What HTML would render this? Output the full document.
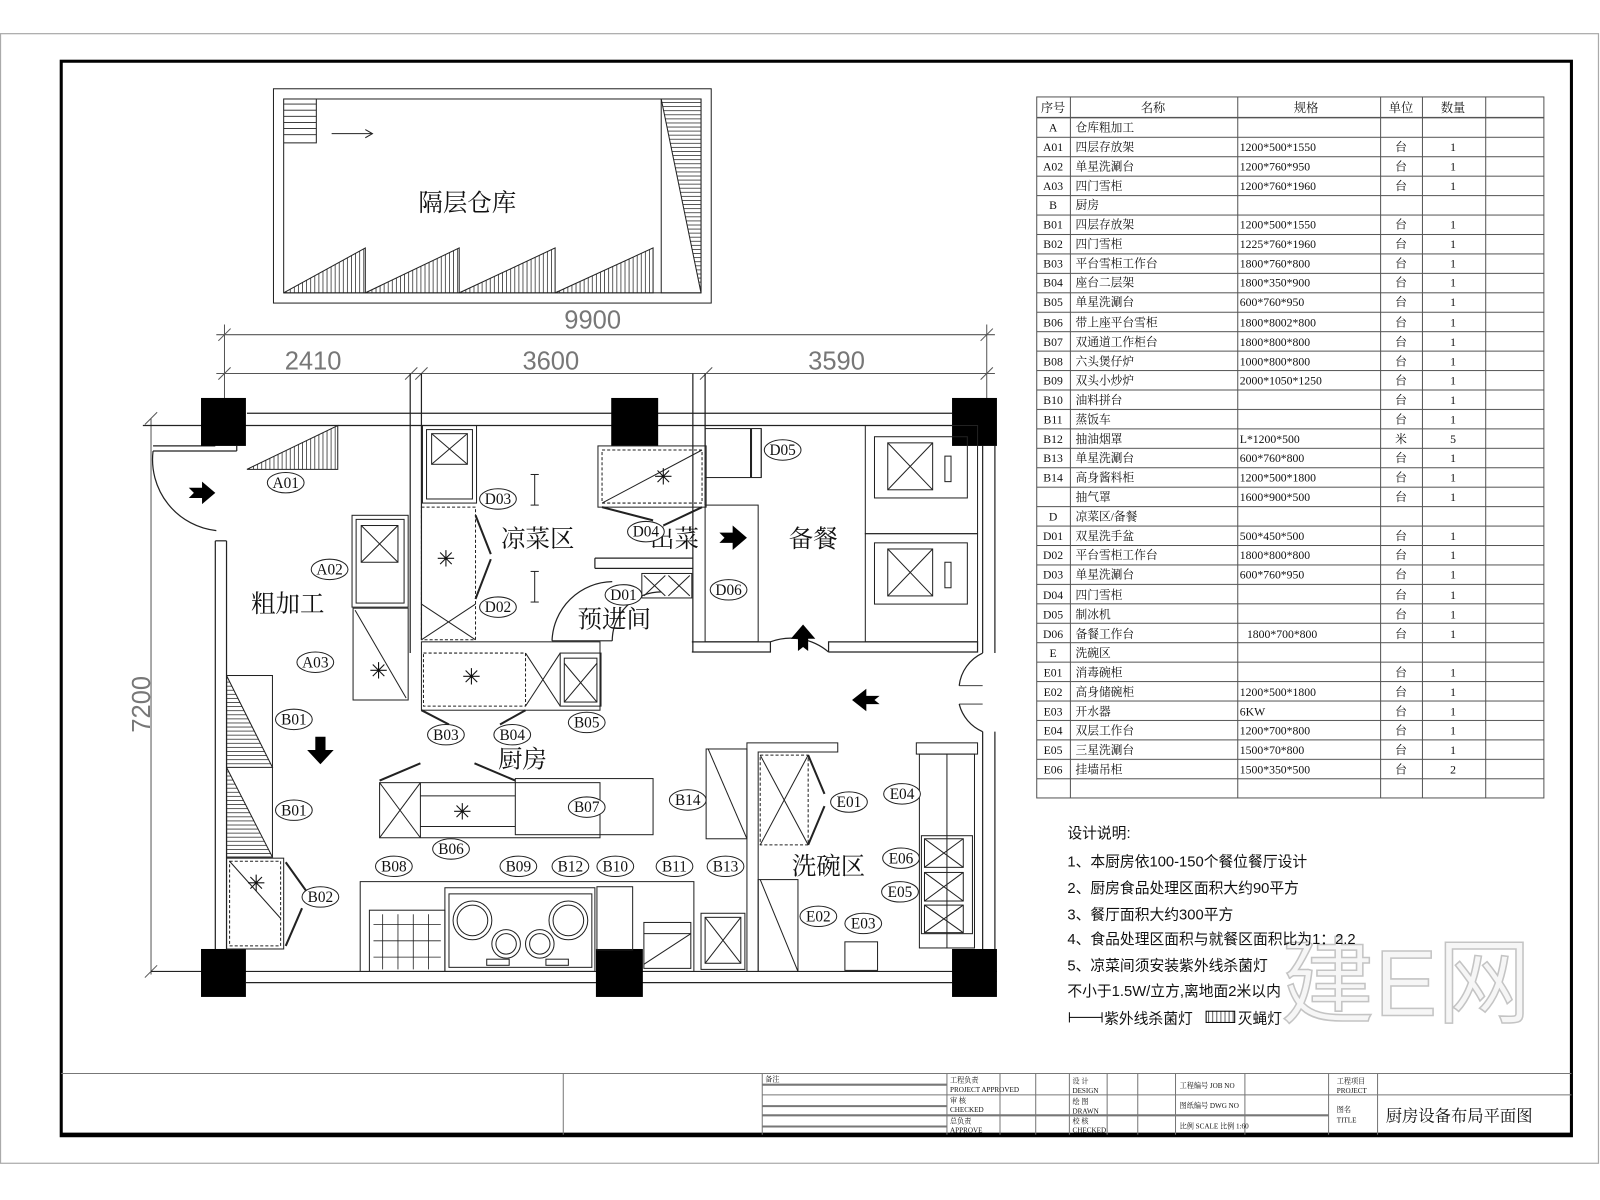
<!DOCTYPE html>
<html><head><meta charset="utf-8"><style>
html,body{margin:0;padding:0;background:#fff;}
svg{display:block;}
text{font-family:"Liberation Serif","Noto Serif CJK SC",serif;fill:#111;}
.s{font-family:"Liberation Sans","Noto Sans CJK SC",sans-serif;}
</style></head><body>
<svg width="1600" height="1200" viewBox="0 0 1568 1176" xmlns="http://www.w3.org/2000/svg">
<defs>
<pattern id="rows" x="0" y="115" width="10" height="19.05" patternUnits="userSpaceOnUse"><line x1="0" y1="0.5" x2="10" y2="0.5" stroke="#555" stroke-width="1"/></pattern>
<pattern id="vh" x="0" y="0" width="4" height="4" patternUnits="userSpaceOnUse"><line x1="0.5" y1="0" x2="0.5" y2="4" stroke="#333" stroke-width="0.8"/></pattern>
<pattern id="hh" x="0" y="0" width="4" height="4" patternUnits="userSpaceOnUse"><line x1="0" y1="0.5" x2="4" y2="0.5" stroke="#333" stroke-width="0.8"/></pattern>
</defs>
<rect x="0" y="0" width="1568" height="1176" fill="#fff"/>
<rect x="0.5" y="33" width="1566" height="1107" fill="none" stroke="#aaa" stroke-width="1.2"/>
<rect x="60" y="60" width="1480" height="1053" fill="none" stroke="#000" stroke-width="3"/>
<line x1="60" y1="1112" x2="1540" y2="1112" stroke="#000" stroke-width="4"/>

<text x="1255" y="995" font-size="92" class="s" stroke="#c4c4c4" stroke-width="1.5" style="fill:#f6f6f6">建E网</text>

<g stroke="#777" stroke-width="1" fill="none">
<line x1="60" y1="1052" x2="1540" y2="1052"/>
<line x1="552" y1="1052" x2="552" y2="1112"/>
<line x1="747" y1="1052" x2="747" y2="1112"/>
<line x1="928" y1="1052" x2="928" y2="1112"/>
<line x1="980" y1="1052" x2="980" y2="1112"/>
<line x1="1015" y1="1052" x2="1015" y2="1112"/>
<line x1="1048" y1="1052" x2="1048" y2="1112"/>
<line x1="1085" y1="1052" x2="1085" y2="1112"/>
<line x1="1115" y1="1052" x2="1115" y2="1112"/>
<line x1="1152" y1="1052" x2="1152" y2="1112"/>
<line x1="1220" y1="1052" x2="1220" y2="1112"/>
<line x1="1302" y1="1052" x2="1302" y2="1112"/>
<line x1="1350" y1="1052" x2="1350" y2="1112"/>
<line x1="1302" y1="1073" x2="1540" y2="1073"/>
<line x1="747" y1="1063" x2="928" y2="1063" stroke-width="2"/>
<line x1="747" y1="1073" x2="1302" y2="1073"/>
<line x1="747" y1="1084" x2="928" y2="1084" stroke-width="2"/>
<line x1="747" y1="1093" x2="1302" y2="1093" stroke-width="2"/>
<line x1="747" y1="1104" x2="928" y2="1104" stroke-width="2"/>
</g>
<g font-size="7">
<text x="750" y="1060">备注</text>
<text x="931" y="1061">工程负责</text><text x="931" y="1070">PROJECT APPROVED</text>
<text x="931" y="1081">审 核</text><text x="931" y="1090">CHECKED</text>
<text x="931" y="1101">总负责</text><text x="931" y="1110">APPROVE</text>
<text x="1051" y="1062">设 计</text><text x="1051" y="1071">DESIGN</text>
<text x="1051" y="1082">绘 图</text><text x="1051" y="1091">DRAWN</text>
<text x="1051" y="1101">校 核</text><text x="1051" y="1110">CHECKED</text>
<text x="1156" y="1066">工程编号 JOB NO</text>
<text x="1156" y="1086">图纸编号 DWG NO</text>
<text x="1156" y="1106">比例 SCALE  比例   1:60</text>
<text x="1310" y="1062">工程项目</text><text x="1310" y="1071">PROJECT</text>
<text x="1310" y="1090">图名</text><text x="1310" y="1100">TITLE</text>
</g>
<text x="1358" y="1099" font-size="16">厨房设备布局平面图</text>

<rect x="1016" y="115" width="497" height="667" fill="url(#rows)"/>
<g stroke="#555" stroke-width="1" fill="none">
<rect x="1016" y="95" width="497" height="687"/>
<line x1="1016" y1="115" x2="1513" y2="115"/>
<line x1="1049" y1="95" x2="1049" y2="782"/>
<line x1="1213" y1="95" x2="1213" y2="782"/>
<line x1="1353" y1="95" x2="1353" y2="782"/>
<line x1="1394" y1="95" x2="1394" y2="782"/>
<line x1="1456" y1="95" x2="1456" y2="782"/>
</g>
<g font-size="12">
<text x="1020" y="110">序号</text><text x="1118" y="110">名称</text><text x="1268" y="110">规格</text><text x="1361" y="110">单位</text><text x="1412" y="110">数量</text>
</g>
<g font-size="11.5">
<g text-anchor="middle">
<text x="1032" y="129">A</text><text x="1032" y="148">A01</text><text x="1032" y="167">A02</text><text x="1032" y="186">A03</text><text x="1032" y="205">B</text><text x="1032" y="224">B01</text><text x="1032" y="243">B02</text><text x="1032" y="262">B03</text><text x="1032" y="281">B04</text><text x="1032" y="300">B05</text><text x="1032" y="320">B06</text><text x="1032" y="339">B07</text><text x="1032" y="358">B08</text><text x="1032" y="377">B09</text><text x="1032" y="396">B10</text><text x="1032" y="415">B11</text><text x="1032" y="434">B12</text><text x="1032" y="453">B13</text><text x="1032" y="472">B14</text><text x="1032" y="510">D</text><text x="1032" y="529">D01</text><text x="1032" y="548">D02</text><text x="1032" y="567">D03</text><text x="1032" y="587">D04</text><text x="1032" y="606">D05</text><text x="1032" y="625">D06</text><text x="1032" y="644">E</text><text x="1032" y="663">E01</text><text x="1032" y="682">E02</text><text x="1032" y="701">E03</text><text x="1032" y="720">E04</text><text x="1032" y="739">E05</text><text x="1032" y="758">E06</text>
</g>
<g>
<text x="1054" y="129">仓库粗加工</text><text x="1054" y="148">四层存放架</text><text x="1054" y="167">单星洗涮台</text><text x="1054" y="186">四门雪柜</text><text x="1054" y="205">厨房</text><text x="1054" y="224">四层存放架</text><text x="1054" y="243">四门雪柜</text><text x="1054" y="262">平台雪柜工作台</text><text x="1054" y="281">座台二层架</text><text x="1054" y="300">单星洗涮台</text><text x="1054" y="320">带上座平台雪柜</text><text x="1054" y="339">双通道工作柜台</text><text x="1054" y="358">六头煲仔炉</text><text x="1054" y="377">双头小炒炉</text><text x="1054" y="396">油料拼台</text><text x="1054" y="415">蒸饭车</text><text x="1054" y="434">抽油烟罩</text><text x="1054" y="453">单星洗涮台</text><text x="1054" y="472">高身酱料柜</text><text x="1054" y="491">抽气罩</text><text x="1054" y="510">凉菜区/备餐</text><text x="1054" y="529">双星洗手盆</text><text x="1054" y="548">平台雪柜工作台</text><text x="1054" y="567">单星洗涮台</text><text x="1054" y="587">四门雪柜</text><text x="1054" y="606">制冰机</text><text x="1054" y="625">备餐工作台</text><text x="1054" y="644">洗碗区</text><text x="1054" y="663">消毒碗柜</text><text x="1054" y="682">高身储碗柜</text><text x="1054" y="701">开水器</text><text x="1054" y="720">双层工作台</text><text x="1054" y="739">三星洗涮台</text><text x="1054" y="758">挂墙吊柜</text>
</g>
<g>
<text x="1215" y="148">1200*500*1550</text><text x="1215" y="167">1200*760*950</text><text x="1215" y="186">1200*760*1960</text><text x="1215" y="224">1200*500*1550</text><text x="1215" y="243">1225*760*1960</text><text x="1215" y="262">1800*760*800</text><text x="1215" y="281">1800*350*900</text><text x="1215" y="300">600*760*950</text><text x="1215" y="320">1800*8002*800</text><text x="1215" y="339">1800*800*800</text><text x="1215" y="358">1000*800*800</text><text x="1215" y="377">2000*1050*1250</text><text x="1215" y="434">L*1200*500</text><text x="1215" y="453">600*760*800</text><text x="1215" y="472">1200*500*1800</text><text x="1215" y="491">1600*900*500</text><text x="1215" y="529">500*450*500</text><text x="1215" y="548">1800*800*800</text><text x="1215" y="567">600*760*950</text><text x="1222" y="625">1800*700*800</text><text x="1215" y="682">1200*500*1800</text><text x="1215" y="701">6KW</text><text x="1215" y="720">1200*700*800</text><text x="1215" y="739">1500*70*800</text><text x="1215" y="758">1500*350*500</text>
</g>
<g text-anchor="middle">
<text x="1373" y="148">台</text><text x="1373" y="167">台</text><text x="1373" y="186">台</text><text x="1373" y="224">台</text><text x="1373" y="243">台</text><text x="1373" y="262">台</text><text x="1373" y="281">台</text><text x="1373" y="300">台</text><text x="1373" y="320">台</text><text x="1373" y="339">台</text><text x="1373" y="358">台</text><text x="1373" y="377">台</text><text x="1373" y="396">台</text><text x="1373" y="415">台</text><text x="1373" y="434">米</text><text x="1373" y="453">台</text><text x="1373" y="472">台</text><text x="1373" y="491">台</text><text x="1373" y="529">台</text><text x="1373" y="548">台</text><text x="1373" y="567">台</text><text x="1373" y="587">台</text><text x="1373" y="606">台</text><text x="1373" y="625">台</text><text x="1373" y="663">台</text><text x="1373" y="682">台</text><text x="1373" y="701">台</text><text x="1373" y="720">台</text><text x="1373" y="739">台</text><text x="1373" y="758">台</text>
<text x="1424" y="148">1</text><text x="1424" y="167">1</text><text x="1424" y="186">1</text><text x="1424" y="224">1</text><text x="1424" y="243">1</text><text x="1424" y="262">1</text><text x="1424" y="281">1</text><text x="1424" y="300">1</text><text x="1424" y="320">1</text><text x="1424" y="339">1</text><text x="1424" y="358">1</text><text x="1424" y="377">1</text><text x="1424" y="396">1</text><text x="1424" y="415">1</text><text x="1424" y="434">5</text><text x="1424" y="453">1</text><text x="1424" y="472">1</text><text x="1424" y="491">1</text><text x="1424" y="529">1</text><text x="1424" y="548">1</text><text x="1424" y="567">1</text><text x="1424" y="587">1</text><text x="1424" y="606">1</text><text x="1424" y="625">1</text><text x="1424" y="663">1</text><text x="1424" y="682">1</text><text x="1424" y="701">1</text><text x="1424" y="720">1</text><text x="1424" y="739">1</text><text x="1424" y="758">2</text>
</g>
</g>

<g font-size="14.5">
<text class="s" x="1046" y="821">设计说明:</text>
<text class="s" x="1046" y="849">1、本厨房依100-150个餐位餐厅设计</text>
<text class="s" x="1046" y="875">2、厨房食品处理区面积大约90平方</text>
<text class="s" x="1046" y="901">3、餐厅面积大约300平方</text>
<text class="s" x="1046" y="925">4、食品处理区面积与就餐区面积比为1：2.2</text>
<text class="s" x="1046" y="951">5、凉菜间须安装紫外线杀菌灯</text>
<text class="s" x="1046" y="976">不小于1.5W/立方,离地面2米以内</text>
<text class="s" x="1082" y="1003">紫外线杀菌灯</text>
<text class="s" x="1213" y="1003">灭蝇灯</text>
</g>
<line x1="1048" y1="997" x2="1080" y2="997" stroke="#000"/><line x1="1048" y1="992" x2="1048" y2="1002" stroke="#000"/><line x1="1080" y1="992" x2="1080" y2="1002" stroke="#000"/>
<rect x="1182" y="991" width="28" height="11" fill="url(#vh)" stroke="#000"/>

<g stroke="#222" fill="none" stroke-width="1">
<rect x="268" y="87" width="429" height="210"/>
<rect x="278" y="97" width="409" height="190"/>
<polyline points="278,140 310,140 310,97"/>
<g stroke-width="0.8">
<line x1="278" y1="102" x2="310" y2="102"/><line x1="278" y1="108" x2="310" y2="108"/><line x1="278" y1="114" x2="310" y2="114"/><line x1="278" y1="120" x2="310" y2="120"/><line x1="278" y1="126" x2="310" y2="126"/><line x1="278" y1="132" x2="310" y2="132"/>
</g>
<line x1="325" y1="131" x2="365" y2="131"/><polyline points="358,127 365,131 358,135"/>
</g>
<polygon points="278,287 358,287 358,243" fill="url(#vh)" stroke="#222"/>
<polygon points="358,287 450,287 450,243" fill="url(#vh)" stroke="#222"/>
<polygon points="450,287 544,287 544,243" fill="url(#vh)" stroke="#222"/>
<polygon points="544,287 640,287 640,243" fill="url(#vh)" stroke="#222"/>
<polygon points="648,97 687,97 687,287 648,287" fill="none" stroke="#222"/>
<polygon points="648,97 687,97 687,287" fill="url(#hh)" stroke="#222"/>
<text x="410" y="207" font-size="24">隔层仓库</text>

<g stroke="#555" stroke-width="1" fill="none">
<line x1="212" y1="328" x2="975" y2="328"/>
<line x1="212" y1="366" x2="975" y2="366"/>
<line x1="220" y1="318" x2="220" y2="416"/>
<line x1="967" y1="318" x2="967" y2="416"/>
<line x1="214" y1="334" x2="226" y2="322"/><line x1="961" y1="334" x2="973" y2="322"/>
<line x1="214" y1="372" x2="226" y2="360"/><line x1="397" y1="372" x2="409" y2="360"/><line x1="407" y1="372" x2="419" y2="360"/><line x1="686" y1="372" x2="698" y2="360"/><line x1="961" y1="372" x2="973" y2="360"/>
<line x1="148" y1="410" x2="148" y2="955"/>
<line x1="142" y1="416" x2="154" y2="404"/><line x1="142" y1="958" x2="154" y2="946"/>
</g>
<g font-size="25">
<text class="s" x="553" y="322" style="fill:#777">9900</text>
<text class="s" x="279" y="362" style="fill:#777">2410</text>
<text class="s" x="512" y="362" style="fill:#777">3600</text>
<text class="s" x="792" y="362" style="fill:#777">3590</text>
<text class="s" transform="translate(147,718) rotate(-90)" style="fill:#777">7200</text>
</g>

<g stroke="#222" stroke-width="1.2" fill="none">
<line x1="242" y1="405" x2="933" y2="405"/>
<line x1="140" y1="417" x2="933" y2="417"/>
<line x1="148" y1="952" x2="977" y2="952"/>
<line x1="241" y1="963" x2="933" y2="963"/>
<line x1="211" y1="530" x2="211" y2="930"/>
<line x1="222" y1="530" x2="222" y2="930"/>
<line x1="211" y1="530" x2="222" y2="530"/>
<line x1="150" y1="437" x2="211" y2="437"/><line x1="150" y1="442" x2="232" y2="442"/><line x1="232" y1="437" x2="232" y2="442"/>
<path d="M150,442 A70,70 0 0 0 212,520"/>
<line x1="963" y1="437" x2="963" y2="640"/><line x1="975" y1="437" x2="975" y2="640"/>
<line x1="963" y1="717" x2="963" y2="930"/><line x1="975" y1="717" x2="975" y2="930"/>
<path d="M963,640 A40,40 0 0 0 940,672"/><path d="M963,717 A40,40 0 0 1 940,690"/>
<line x1="940" y1="672" x2="963" y2="672" stroke-width="0.8"/><line x1="940" y1="690" x2="963" y2="690" stroke-width="0.8"/>
<line x1="402" y1="366" x2="402" y2="640"/><line x1="413" y1="366" x2="413" y2="627"/>
<line x1="679" y1="366" x2="679" y2="639"/><line x1="691" y1="366" x2="691" y2="495"/>
<line x1="583" y1="547" x2="679" y2="547"/><line x1="583" y1="557" x2="679" y2="557"/><line x1="583" y1="547" x2="583" y2="557"/>
<polyline points="678,629 755,629 755,639 678,639"/>
<polyline points="812,639 812,629 958,629 958,639 812,639"/>
<path d="M755,629 A57,57 0 0 1 812,639" />
<path d="M541,628 A60,60 0 0 1 600,570"/><line x1="541" y1="628" x2="600" y2="628"/>
<path d="M600,628 A48,48 0 0 1 648,580"/>
</g>
<g fill="#000">
<rect x="197" y="390" width="44" height="47"/>
<rect x="599" y="390" width="46" height="47"/>
<rect x="933" y="390" width="44" height="47"/>
<rect x="197" y="930" width="44" height="47"/>
<rect x="584" y="930" width="46" height="47"/>
<rect x="933" y="930" width="44" height="47"/>
</g>

<g stroke="#222" stroke-width="1" fill="none">
<polygon points="242,460 331,460 331,417" fill="url(#vh)"/>
<rect x="345" y="505" width="55" height="90"/><rect x="349" y="509" width="47" height="82"/>
<rect x="354" y="515" width="36" height="36"/><line x1="354" y1="515" x2="390" y2="551"/><line x1="390" y1="515" x2="354" y2="551"/>
<rect x="346" y="596" width="54" height="90"/><line x1="348" y1="598" x2="398" y2="684"/>
<rect x="414" y="417" width="53" height="76"/><rect x="418" y="421" width="45" height="68"/>
<rect x="423" y="425" width="35" height="30"/><line x1="423" y1="425" x2="458" y2="455"/><line x1="458" y1="425" x2="423" y2="455"/>
<rect x="413" y="497" width="53" height="130" stroke-dasharray="3,2"/>
<line x1="413" y1="592" x2="466" y2="627"/><line x1="466" y1="592" x2="413" y2="627"/>
<line x1="466" y1="505" x2="481" y2="543" stroke-width="2"/><line x1="466" y1="587" x2="481" y2="548" stroke-width="2"/>
<line x1="524" y1="465" x2="524" y2="495"/><line x1="520" y1="465" x2="528" y2="465"/><line x1="520" y1="495" x2="528" y2="495"/>
<line x1="524" y1="560" x2="524" y2="590"/><line x1="520" y1="560" x2="528" y2="560"/><line x1="520" y1="590" x2="528" y2="590"/>
<rect x="413" y="629" width="175" height="67"/>
<rect x="415" y="640" width="100" height="52" stroke-dasharray="3,2"/>
<line x1="515" y1="640" x2="549" y2="692"/><line x1="549" y1="640" x2="515" y2="692"/>
<rect x="549" y="640" width="40" height="52"/><rect x="553" y="645" width="32" height="43"/>
<line x1="553" y1="650" x2="585" y2="688"/><line x1="585" y1="650" x2="553" y2="688"/>
<line x1="413" y1="696" x2="440" y2="710" stroke-width="2"/><line x1="515" y1="696" x2="490" y2="710" stroke-width="2"/>
<rect x="586" y="437" width="106" height="60"/><rect x="590" y="441" width="98" height="52" stroke-dasharray="3,2"/><line x1="590" y1="493" x2="688" y2="441"/>
<line x1="590" y1="497" x2="640" y2="510" stroke-width="2"/><line x1="688" y1="497" x2="650" y2="515" stroke-width="2"/>
<rect x="629" y="562" width="49" height="24"/><line x1="631" y1="564" x2="652" y2="584"/><line x1="652" y1="564" x2="631" y2="584"/><line x1="655" y1="564" x2="676" y2="584"/><line x1="676" y1="564" x2="655" y2="584"/>
<rect x="691" y="420" width="55" height="48"/><line x1="736" y1="420" x2="736" y2="468" stroke-width="2"/><line x1="746" y1="420" x2="746" y2="468"/>
<rect x="691" y="495" width="52" height="134"/>
<rect x="848" y="417" width="110" height="106"/><rect x="857" y="428" width="91" height="60"/>
<rect x="870" y="434" width="44" height="46"/><line x1="870" y1="434" x2="914" y2="480"/><line x1="914" y1="434" x2="870" y2="480"/><rect x="926" y="447" width="6" height="25"/>
<rect x="848" y="523" width="110" height="106"/><rect x="857" y="532" width="91" height="60"/>
<rect x="870" y="538" width="44" height="46"/><line x1="870" y1="538" x2="914" y2="584"/><line x1="914" y1="538" x2="870" y2="584"/><rect x="926" y="551" width="6" height="25"/>
<rect x="222" y="662" width="45" height="178"/>
<polygon points="222,662 222,752 267,752" fill="url(#hh)"/>
<polygon points="222,752 222,840 267,840" fill="url(#hh)"/>
<rect x="222" y="841" width="56" height="89"/><rect x="225" y="844" width="50" height="83" stroke-dasharray="3,2"/><line x1="225" y1="844" x2="275" y2="900"/>
<line x1="280" y1="845" x2="300" y2="873" stroke-width="2"/><line x1="280" y1="927" x2="296" y2="890" stroke-width="2"/>
<rect x="372" y="767" width="216" height="54"/><line x1="372" y1="767" x2="412" y2="821"/><line x1="412" y1="767" x2="372" y2="821"/><line x1="412" y1="767" x2="412" y2="821"/>
<line x1="412" y1="780" x2="505" y2="780"/><line x1="412" y1="810" x2="505" y2="810"/>
<rect x="505" y="763" width="135" height="55"/>
<line x1="372" y1="765" x2="412" y2="748" stroke-width="2"/><line x1="505" y1="765" x2="465" y2="748" stroke-width="2"/>
<polyline points="353,952 353,864 680,864 680,952"/>
<rect x="362" y="892" width="74" height="60"/>
<g stroke-width="0.8"><line x1="366" y1="906" x2="432" y2="906"/><line x1="366" y1="922" x2="432" y2="922"/><line x1="366" y1="938" x2="432" y2="938"/><line x1="375" y1="896" x2="375" y2="950"/><line x1="390" y1="896" x2="390" y2="950"/><line x1="405" y1="896" x2="405" y2="950"/><line x1="420" y1="896" x2="420" y2="950"/></g>
<rect x="436" y="870" width="147" height="82"/><rect x="440" y="876" width="140" height="72"/>
<circle cx="463" cy="902" r="19"/><circle cx="463" cy="902" r="15"/>
<circle cx="557" cy="902" r="19"/><circle cx="557" cy="902" r="15"/>
<circle cx="496" cy="925" r="14"/><circle cx="496" cy="925" r="10"/>
<circle cx="529" cy="925" r="14"/><circle cx="529" cy="925" r="10"/>
<rect x="477" y="940" width="22" height="6"/><rect x="535" y="940" width="22" height="6"/>
<rect x="585" y="869" width="35" height="62"/>
<rect x="631" y="904" width="46" height="45"/><line x1="631" y1="915" x2="677" y2="915"/><line x1="631" y1="945" x2="677" y2="915"/>
<rect x="687" y="895" width="43" height="55"/><rect x="691" y="899" width="35" height="45"/><line x1="691" y1="899" x2="726" y2="944"/><line x1="726" y1="899" x2="691" y2="944"/>
<rect x="692" y="734" width="40" height="88"/><line x1="694" y1="734" x2="732" y2="822"/>
<polyline points="732,952 732,728 821,728 821,737 743,737 743,952"/>
<rect x="745" y="740" width="47" height="88" stroke-dasharray="3,2"/><line x1="745" y1="740" x2="792" y2="828"/><line x1="792" y1="740" x2="745" y2="828"/>
<line x1="792" y1="740" x2="808" y2="778" stroke-width="2"/><line x1="792" y1="828" x2="808" y2="790" stroke-width="2"/>
<rect x="743" y="862" width="39" height="90"/><line x1="745" y1="862" x2="782" y2="952"/>
<rect x="828" y="923" width="32" height="28"/>
<rect x="898" y="728" width="60" height="11"/>
<rect x="901" y="739" width="54" height="190"/><line x1="928" y1="739" x2="928" y2="929"/>
<rect x="903" y="819" width="50" height="96"/>
<rect x="906" y="822" width="38" height="28"/><line x1="906" y1="822" x2="944" y2="850"/><line x1="944" y1="822" x2="906" y2="850"/>
<rect x="906" y="855" width="38" height="28"/><line x1="906" y1="855" x2="944" y2="883"/><line x1="944" y1="855" x2="906" y2="883"/>
<rect x="906" y="887" width="38" height="27"/><line x1="906" y1="887" x2="944" y2="914"/><line x1="944" y1="887" x2="906" y2="914"/>
</g>
<g font-size="22" text-anchor="middle">
<text class="s" x="437" y="555">✳</text><text class="s" x="371" y="665">✳</text><text class="s" x="650" y="475">✳</text>
<text class="s" x="462" y="671">✳</text><text class="s" x="453" y="803">✳</text><text class="s" x="251" y="873">✳</text>
</g>

<g fill="#000">
<polygon points="185,478 198,478 198,472 211,483 198,494 198,488 185,488 190,483"/>
<polygon points="705,522 718,522 718,515 732,527 718,539 718,532 705,532 710,527"/>
<polygon points="782,638 782,626 775,626 787,612 799,626 792,626 792,638 787,634"/>
<polygon points="309,722 319,722 319,735 327,735 314,749 301,735 309,735"/>
<polygon points="862,682 849,682 849,675 835,686 849,697 849,690 862,690 857,686"/>
</g>

<g font-size="24">
<text x="246" y="600">粗加工</text>
<text x="491" y="536">凉菜区</text>
<text x="637" y="536">出菜</text>
<text x="773" y="536">备餐</text>
<text x="566" y="615">预进间</text>
<text x="488" y="752">厨房</text>
<text x="776" y="857">洗碗区</text>
</g>

<g stroke="#222" fill="#fff" stroke-width="1">
<ellipse cx="280" cy="473" rx="18" ry="10"/><ellipse cx="323" cy="558" rx="18" ry="10"/><ellipse cx="309" cy="649" rx="18" ry="10"/>
<ellipse cx="488" cy="489" rx="18" ry="10"/><ellipse cx="488" cy="595" rx="18" ry="10"/><ellipse cx="611" cy="583" rx="18" ry="10"/>
<ellipse cx="633" cy="521" rx="18" ry="10"/><ellipse cx="767" cy="441" rx="18" ry="10"/><ellipse cx="714" cy="578" rx="18" ry="10"/>
<ellipse cx="288" cy="705" rx="18" ry="10"/><ellipse cx="288" cy="794" rx="18" ry="10"/><ellipse cx="314" cy="879" rx="18" ry="10"/>
<ellipse cx="437" cy="720" rx="18" ry="10"/><ellipse cx="502" cy="720" rx="18" ry="10"/><ellipse cx="575" cy="708" rx="18" ry="10"/>
<ellipse cx="442" cy="832" rx="18" ry="10"/><ellipse cx="575" cy="791" rx="18" ry="10"/><ellipse cx="386" cy="849" rx="18" ry="10"/>
<ellipse cx="508" cy="849" rx="18" ry="10"/><ellipse cx="559" cy="849" rx="18" ry="10"/><ellipse cx="603" cy="849" rx="18" ry="10"/>
<ellipse cx="661" cy="849" rx="18" ry="10"/><ellipse cx="711" cy="849" rx="18" ry="10"/><ellipse cx="674" cy="784" rx="18" ry="10"/>
<ellipse cx="832" cy="786" rx="18" ry="10"/><ellipse cx="884" cy="778" rx="18" ry="10"/><ellipse cx="883" cy="841" rx="18" ry="10"/>
<ellipse cx="882" cy="874" rx="18" ry="10"/><ellipse cx="802" cy="898" rx="18" ry="10"/><ellipse cx="846" cy="905" rx="18" ry="10"/>
</g>
<g font-size="15" text-anchor="middle">
<text x="280" y="478">A01</text><text x="323" y="563">A02</text><text x="309" y="654">A03</text>
<text x="488" y="494">D03</text><text x="488" y="600">D02</text><text x="611" y="588">D01</text>
<text x="633" y="526">D04</text><text x="767" y="446">D05</text><text x="714" y="583">D06</text>
<text x="288" y="710">B01</text><text x="288" y="799">B01</text><text x="314" y="884">B02</text>
<text x="437" y="725">B03</text><text x="502" y="725">B04</text><text x="575" y="713">B05</text>
<text x="442" y="837">B06</text><text x="575" y="796">B07</text><text x="386" y="854">B08</text>
<text x="508" y="854">B09</text><text x="559" y="854">B12</text><text x="603" y="854">B10</text>
<text x="661" y="854">B11</text><text x="711" y="854">B13</text><text x="674" y="789">B14</text>
<text x="832" y="791">E01</text><text x="884" y="783">E04</text><text x="883" y="846">E06</text>
<text x="882" y="879">E05</text><text x="802" y="903">E02</text><text x="846" y="910">E03</text>
</g>
</svg>
</body></html>
